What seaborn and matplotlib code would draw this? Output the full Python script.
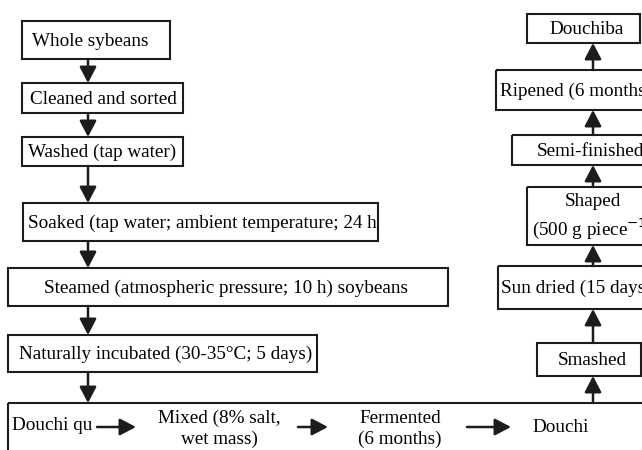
import matplotlib
matplotlib.use("Agg")
import matplotlib.pyplot as plt
from matplotlib.patches import Rectangle
import seaborn as sns

# Flow chart steps (text only)
left_steps = ["Whole sybeans", "Cleaned and sorted", "Washed (tap water)",
              "Soaked (tap water; ambient temperature; 24 h",
              "Steamed (atmospheric pressure; 10 h) soybeans",
              "Naturally incubated (30-35\u00b0C; 5 days)"]
bottom_steps = ["Douchi qu", "Mixed (8% salt,\nwet mass)", "Fermented\n(6 months)", "Douchi"]
right_steps = ["Smashed", "Sun dried (15 days)", "Shaped\n(500 g piece$^{-1}$)",
               "Semi-finished", "Ripened (6 months)", "Douchiba"]

# layout in pixel units (x0, x1, y0, y1)
left_boxes = [(22, 170, 21, 59), (22, 183, 83, 113), (22, 183, 137, 166),
              (23, 378, 203, 241), (8, 448, 268, 306), (8, 317, 335, 372)]
left_text_x = [90, 103, 102, 202, 226, 166]
right_boxes = [(537, 641, 343, 376), (498, 690, 266, 309), (527, 660, 187, 245),
               (512, 675, 135, 165), (496, 690, 70, 110), (527, 640, 14, 43)]
right_text_x = [592, 576, 593, 590, 576, 587]
bottom_text_x = [52, 219, 400, 561]
bottom_text_y = [425, 429, 429, 428]
h_arrows = [(97, 136), (298, 328), (467, 511)]

sns.set_style("white")
plt.rcParams["font.family"] = ["Liberation Serif", "DejaVu Serif"]

fig = plt.figure(figsize=(6.42, 4.5), dpi=100)
ax = fig.add_axes([0, 0, 1, 1])
ax.set_xlim(0, 642)
ax.set_ylim(450, 0)
ax.axis("off")

ink = "#1c1c1c"
fs = 13.8
arrow_kw = dict(arrowstyle="-|>,head_length=0.65,head_width=0.34", color=ink,
                lw=1.8, shrinkA=0, shrinkB=0, mutation_scale=15)


def box(x0, x1, y0, y1):
    ax.add_patch(Rectangle((x0, y0), x1 - x0, y1 - y0, fill=False,
                           edgecolor=ink, lw=1.5))


def arrow(x0, y0, x1, y1):
    ax.annotate("", xy=(x1, y1), xytext=(x0, y0), arrowprops=arrow_kw)


# left column
col_x = 88
for i, (lab, (x0, x1, y0, y1), tx) in enumerate(zip(left_steps, left_boxes, left_text_x)):
    box(x0, x1, y0, y1)
    ax.text(tx, (y0 + y1) / 2 + 1, lab, ha="center", va="center", fontsize=fs, color="black")
    nxt = left_boxes[i + 1][2] if i + 1 < len(left_boxes) else 403
    arrow(col_x, y1, col_x, nxt)

# bottom box
box(8, 700, 403, 470)
for lab, tx, ty in zip(bottom_steps, bottom_text_x, bottom_text_y):
    ax.text(tx, ty, lab, ha="center", va="center", fontsize=fs, color="black",
            linespacing=1.3)
for xa, xb in h_arrows:
    arrow(xa, 427, xb, 427)

# right column (bottom to top)
rcol = 593
prev_top = 403
for lab, (x0, x1, y0, y1), tx in zip(right_steps, right_boxes, right_text_x):
    box(x0, x1, y0, y1)
    ax.text(tx, (y0 + y1) / 2 + 1, lab, ha="center", va="center", fontsize=fs,
            color="black", linespacing=1.3)
    arrow(rcol, prev_top, rcol, y1)
    prev_top = y0

fig.savefig("out.png", dpi=100)
